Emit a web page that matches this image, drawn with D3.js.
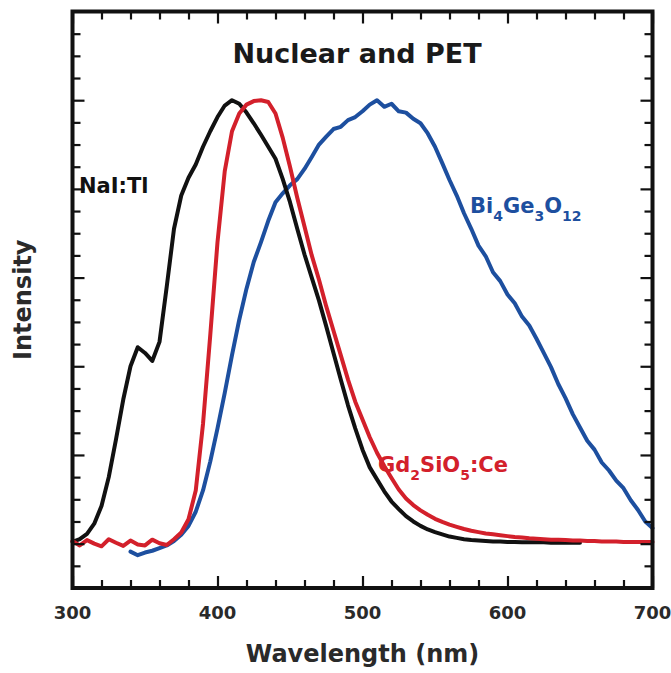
<!DOCTYPE html>
<html>
<head>
<meta charset="utf-8">
<script src="https://cdn.jsdelivr.net/npm/d3@7"></script>
<style>
  html, body { margin: 0; padding: 0; background: #fff; }
  svg { display: block; }
  text { font-family: "DejaVu Sans", sans-serif; font-weight: bold; }
</style>
</head>
<body>
<div id="chart"></div>
<script>
// ---- Data ----
const xTickLabels = [300, 400, 500, 600, 700];

const blackNm = [300,305,310,315,320,325,330,335,340,345,350,355,360,365,370,375,380,385,390,395,
  400,405,410,415,420,425,430,435,440,445,450,455,460,465,470,475,480,485,490,495,
  500,505,510,515,520,525,530,535,540,545,550,555,560,565,570,575,580,585,590,595,
  600,605,610,615,620,625,630,635,640,645,650];
const blackI = [0.004,0.01,0.022,0.045,0.085,0.15,0.235,0.325,0.4,0.443,0.43,0.412,0.455,0.58,0.71,0.785,0.825,0.855,0.895,0.93,
  0.962,0.988,1.0,0.992,0.972,0.948,0.922,0.895,0.868,0.822,0.77,0.71,0.652,0.6,0.548,0.49,0.43,0.37,0.312,0.26,
  0.212,0.172,0.145,0.118,0.095,0.078,0.062,0.05,0.04,0.032,0.026,0.021,0.016,0.013,0.01,0.008,0.007,0.006,0.005,0.005,
  0.004,0.004,0.003,0.003,0.003,0.003,0.002,0.002,0.002,0.002,0.002];

const redNm = [300,305,310,315,320,325,330,335,340,345,350,355,360,365,370,375,380,385,390,395,
  400,405,410,415,420,425,430,435,440,445,450,455,460,465,470,475,480,485,490,495,
  500,505,510,515,520,525,530,535,540,545,550,555,560,565,570,575,580,585,590,595,
  600,605,610,615,620,625,630,635,640,645,650,655,660,665,670,675,680,685,690,695,700];
const redI = [0.006,-0.004,0.008,0.0,-0.006,0.01,0.002,-0.005,0.007,-0.002,-0.004,0.009,0.001,-0.003,0.01,0.025,0.055,0.12,0.27,0.47,
  0.68,0.84,0.93,0.97,0.99,0.998,1.0,0.996,0.97,0.915,0.85,0.78,0.715,0.65,0.595,0.535,0.48,0.425,0.37,0.32,
  0.28,0.24,0.205,0.175,0.148,0.122,0.102,0.087,0.075,0.065,0.056,0.049,0.043,0.038,0.033,0.029,0.026,0.023,0.021,0.019,
  0.017,0.015,0.014,0.012,0.011,0.01,0.009,0.009,0.008,0.007,0.007,0.006,0.006,0.005,0.005,0.005,0.004,0.004,0.004,0.004,0.004];

const blueNm = [340,345,350,355,360,365,370,375,380,385,390,395,
  400,405,410,415,420,425,430,435,440,445,450,455,460,465,470,475,480,485,490,495,
  500,505,510,515,520,525,530,535,540,545,550,555,560,565,570,575,580,585,590,595,
  600,605,610,615,620,625,630,635,640,645,650,655,660,665,670,675,680,685,690,695,700];
const blueI = [-0.018,-0.026,-0.02,-0.016,-0.01,-0.004,0.006,0.02,0.04,0.072,0.12,0.185,
  0.26,0.34,0.425,0.505,0.575,0.635,0.68,0.728,0.77,0.79,0.808,0.822,0.845,0.872,0.9,0.918,0.935,0.94,0.955,0.962,
  0.975,0.99,1.0,0.985,0.992,0.975,0.972,0.958,0.948,0.925,0.895,0.858,0.82,0.785,0.745,0.71,0.672,0.648,0.612,0.592,
  0.562,0.542,0.512,0.492,0.462,0.43,0.398,0.36,0.328,0.292,0.262,0.232,0.212,0.183,0.165,0.142,0.125,0.098,0.076,0.05,0.035];

const seriesNames = ["Bi4Ge3O12", "NaI:Tl", "Gd2SiO5:Ce"];
const seriesColors = ["#1d4f9f", "#111111", "#d3202b"];

// ---- Layout ----
const W = 671, H = 673;
const mLeft = 72.5, mRight = 652.5, mTop = 11.5, mBottom = 588;

const svg = d3.select("#chart").append("svg").attr("width", W).attr("height", H);

const x = d3.scaleLinear().domain([300, 700]).range([mLeft, mRight]);
const y = d3.scaleLinear().domain([-0.1, 1.2]).range([mBottom, mTop]);

// ---- Curves ----
const line = d3.line().x(d => x(d[0])).y(d => y(d[1]));
const curves = [
  { nm: blueNm, v: blueI, color: seriesColors[0] },
  { nm: blackNm, v: blackI, color: seriesColors[1] },
  { nm: redNm, v: redI, color: seriesColors[2] }
];
const plot = svg.append("g");
curves.forEach(c => {
  const pts = c.nm.map((n, i) => [n, c.v[i]]);
  plot.append("path").datum(pts)
    .attr("d", line)
    .attr("fill", "none")
    .attr("stroke", c.color)
    .attr("stroke-width", 4)
    .attr("stroke-linejoin", "round")
    .attr("stroke-linecap", "round");
});

// ---- Axes (inward ticks on all four sides) ----
const xMinor = [320, 340, 360, 380, 420, 440, 460, 480, 520, 540, 560, 580, 620, 640, 660, 680];
const yMinor = [-0.05, 0.05, 0.1, 0.15, 0.25, 0.3, 0.35, 0.45, 0.5, 0.55, 0.65, 0.7, 0.75, 0.85, 0.9, 0.95, 1.05, 1.1, 1.15];
const yMajor = [0, 0.2, 0.4, 0.6, 0.8, 1.0];

function styleAxis(g) {
  g.select(".domain").remove();
  g.selectAll(".tick line").attr("stroke", "#111").attr("stroke-width", 2.2);
}
const nolabel = () => "";
const minorLen = -8, majorLen = -12;

function addAxis(axisFn, scale, vals, len, tx, ty) {
  svg.append("g").attr("transform", `translate(${tx},${ty})`)
    .call(axisFn(scale).tickValues(vals).tickSizeInner(len).tickSizeOuter(0).tickFormat(nolabel))
    .call(styleAxis);
}
addAxis(d3.axisBottom, x, xMinor, minorLen, 0, mBottom);
addAxis(d3.axisBottom, x, xTickLabels, majorLen, 0, mBottom);
addAxis(d3.axisTop, x, xMinor, minorLen, 0, mTop);
addAxis(d3.axisTop, x, xTickLabels, majorLen, 0, mTop);
addAxis(d3.axisLeft, y, yMinor, minorLen, mLeft, 0);
addAxis(d3.axisLeft, y, yMajor, majorLen, mLeft, 0);
addAxis(d3.axisRight, y, yMinor, minorLen, mRight, 0);
addAxis(d3.axisRight, y, yMajor, majorLen, mRight, 0);

// frame
svg.append("rect")
  .attr("x", mLeft).attr("y", mTop)
  .attr("width", mRight - mLeft).attr("height", mBottom - mTop)
  .attr("fill", "none").attr("stroke", "#111").attr("stroke-width", 4);

// x tick labels
svg.append("g").selectAll("text").data(xTickLabels).join("text")
  .attr("x", d => x(d)).attr("y", 619)
  .attr("text-anchor", "middle")
  .attr("font-size", 18)
  .attr("fill", "#2a2a2a")
  .text(d => d);

// axis titles
svg.append("text")
  .attr("x", (mLeft + mRight) / 2).attr("y", 662)
  .attr("text-anchor", "middle").attr("font-size", 24).attr("fill", "#2a2a2a")
  .text("Wavelength (nm)");
svg.append("text")
  .attr("transform", `translate(31,${(mTop + mBottom) / 2}) rotate(-90)`)
  .attr("text-anchor", "middle").attr("font-size", 24).attr("fill", "#2a2a2a")
  .text("Intensity");

// chart title
svg.append("text")
  .attr("x", 357).attr("y", 63)
  .attr("text-anchor", "middle").attr("font-size", 27).attr("fill", "#1a1a1a")
  .text("Nuclear and PET");

// series labels
function chem(parts, px, py, color) {
  const t = svg.append("text").attr("x", px).attr("y", py).attr("fill", color).attr("font-size", 21);
  parts.forEach(p => {
    if (p.sub) {
      t.append("tspan").attr("font-size", 14).attr("dy", 8).text(p.s);
    } else {
      t.append("tspan").attr("dy", p.after ? -8 : 0).text(p.s);
    }
  });
  return t;
}
chem([{ s: "NaI:Tl" }], 79, 193, seriesColors[1]);
chem([{ s: "Bi" }, { s: "4", sub: true }, { s: "Ge", after: true }, { s: "3", sub: true }, { s: "O", after: true }, { s: "12", sub: true }],
  470, 213, seriesColors[0]);
chem([{ s: "Gd" }, { s: "2", sub: true }, { s: "SiO", after: true }, { s: "5", sub: true }, { s: ":Ce", after: true }],
  378, 472, seriesColors[2]);
</script>
</body>
</html>
